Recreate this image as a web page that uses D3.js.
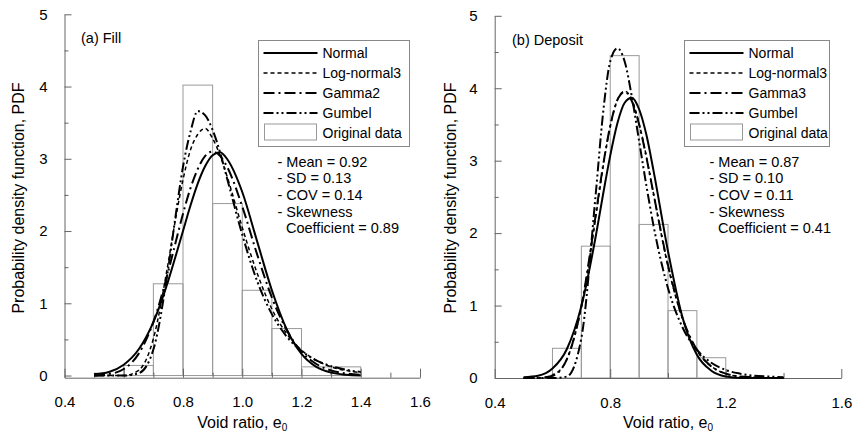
<!DOCTYPE html>
<html>
<head>
<meta charset="utf-8">
<script src="https://cdn.jsdelivr.net/npm/d3@7"></script>
<style>
  body { margin: 0; background: #fff; }
  svg { font-family: "Liberation Sans", Arial, sans-serif; }
</style>
</head>
<body>
<svg id="chart" width="853" height="432"></svg>
<script>
const xGrid = [0.5, 0.55, 0.6, 0.65, 0.7, 0.75, 0.775, 0.8, 0.825, 0.85, 0.875, 0.9, 0.925, 0.95, 1.0, 1.05, 1.1, 1.15, 1.2, 1.25, 1.3, 1.35, 1.4];

// (a) Fill
const fillBinEdges = [0.6, 0.7, 0.8, 0.9, 1.0, 1.1, 1.2, 1.3, 1.4];
const fillBinPdf = [0.14, 1.27, 4.02, 2.38, 1.18, 0.65, 0.12, 0.12];
const fillNormal = [0.02, 0.05, 0.15, 0.36, 0.74, 1.31, 1.65, 2.00, 2.35, 2.66, 2.90, 3.05, 3.09, 2.99, 2.54, 1.86, 1.18, 0.64, 0.30, 0.12, 0.04, 0.01, 0.00];
const fillLogNormal3 = [0, 0, 0.00, 0.07, 0.51, 1.56, 2.17, 2.71, 3.12, 3.34, 3.42, 3.28, 3.05, 2.74, 2.05, 1.42, 0.92, 0.58, 0.35, 0.21, 0.12, 0.07, 0.04];
const fillGamma2 = [0.00, 0.02, 0.09, 0.30, 0.74, 1.44, 1.84, 2.24, 2.59, 2.86, 3.04, 3.10, 3.04, 2.88, 2.34, 1.68, 1.08, 0.63, 0.33, 0.16, 0.07, 0.03, 0.01];
const fillGumbel = [0, 0, 0.00, 0.03, 0.36, 1.48, 2.21, 2.89, 3.37, 3.66, 3.60, 3.40, 3.09, 2.71, 1.95, 1.31, 0.85, 0.54, 0.34, 0.21, 0.13, 0.08, 0.05];
const fillStats = ["- Mean = 0.92", "- SD = 0.13", "- COV = 0.14", "- Skewness", "Coefficient = 0.89"];

// (b) Deposit
const depBinEdges = [0.6, 0.7, 0.8, 0.9, 1.0, 1.1, 1.2];
const depBinPdf = [0.41, 1.82, 4.45, 2.12, 0.93, 0.28];
const depNormal = [0.01, 0.03, 0.13, 0.40, 0.99, 1.96, 2.53, 3.07, 3.52, 3.80, 3.87, 3.71, 3.36, 2.86, 1.75, 0.84, 0.32, 0.10, 0.02, 0.00, 0, 0, 0];
const depLogNormal3 = [0, 0.00, 0.04, 0.26, 0.98, 2.23, 2.91, 3.47, 3.84, 3.96, 3.84, 3.51, 3.06, 2.54, 1.54, 0.82, 0.38, 0.16, 0.06, 0.02, 0.01, 0.00, 0.00];
const depGamma3 = [0, 0.00, 0.03, 0.26, 0.99, 2.26, 2.93, 3.48, 3.84, 3.95, 3.82, 3.50, 3.05, 2.54, 1.56, 0.83, 0.39, 0.16, 0.06, 0.02, 0.01, 0.00, 0.00];
const depGumbel = [0, 0, 0, 0.02, 0.55, 2.55, 3.65, 4.37, 4.55, 4.37, 3.88, 3.27, 2.66, 2.10, 1.24, 0.70, 0.39, 0.21, 0.11, 0.06, 0.03, 0.02, 0.01];
const depStats = ["- Mean = 0.87", "- SD = 0.10", "- COV = 0.11", "- Skewness", "Coefficient = 0.41"];

const yTicks = [0, 1, 2, 3, 4, 5];
const yMinorTicks = [0.5, 1.5, 2.5, 3.5, 4.5];

// line styles, one per distribution
const styles = {
	normal: { dash: null, width: 2 },
	lognormal: { dash: "4,3", width: 1.5 },
	gamma: { dash: "11,4,2,4", width: 2 },
	gumbel: { dash: "10,3,2,3,2,3", width: 2 }
};

var svg = d3.select("#chart");

function drawPanel(cfg) {
	var x = d3.scaleLinear().domain([0.4, 1.6]).range(cfg.xRange);
	var y = d3.scaleLinear().domain(cfg.yDomain).range(cfg.yRange);
	var g = svg.append("g");

	// histogram of the original data
	var bins = cfg.heights.map((h, i) => ({ x0: cfg.edges[i], x1: cfg.edges[i + 1], h: h }));
	g.selectAll(".bar")
		.data(bins)
		.enter()
		.append("rect")
		.attr("x", d => x(d.x0))
		.attr("width", d => x(d.x1) - x(d.x0))
		.attr("y", d => y(d.h))
		.attr("height", d => y(0) - y(d.h))
		.attr("fill", "none")
		.attr("stroke", "#999")
		.attr("stroke-width", 1);

	// axes
	g.append("g")
		.attr("transform", "translate(0," + y(cfg.yDomain[0]) + ")")
		.call(d3.axisBottom(x).tickValues(cfg.xLabels).tickSize(-9).tickSizeOuter(0).tickPadding(19).tickFormat(d3.format(".1f")));
	g.append("g")
		.attr("transform", "translate(0," + y(cfg.yDomain[0]) + ")")
		.call(d3.axisBottom(x).tickValues(cfg.xMinor).tickSize(-5).tickFormat(""))
		.call(a => a.select(".domain").remove());
	g.append("g")
		.attr("transform", "translate(" + cfg.xRange[0] + ",0)")
		.call(d3.axisLeft(y).tickValues(yTicks).tickSize(-7).tickSizeOuter(0).tickPadding(17).tickFormat(d3.format("d")));
	g.append("g")
		.attr("transform", "translate(" + cfg.xRange[0] + ",0)")
		.call(d3.axisLeft(y).tickValues(yMinorTicks).tickSize(-4).tickFormat(""))
		.call(a => a.select(".domain").remove());
	g.selectAll(".domain, .tick line").attr("stroke", "#666");
	g.selectAll(".tick text").attr("font-size", "15px").attr("fill", "#000").attr("font-family", "Liberation Sans, Arial, sans-serif");

	// fitted curves
	var line = d3.line()
		.x((d, i) => x(xGrid[i]))
		.y(d => y(d))
		.curve(d3.curveMonotoneX);
	cfg.curves.forEach(c => {
		g.append("path")
			.attr("d", line(c.values))
			.attr("fill", "none")
			.attr("stroke", "#000")
			.attr("stroke-width", styles[c.style].width)
			.attr("stroke-dasharray", styles[c.style].dash);
	});

	// legend
	var lg = g.append("g");
	lg.append("rect")
		.attr("x", cfg.legend[0]).attr("y", 40.5)
		.attr("width", cfg.legend[2]).attr("height", 106)
		.attr("fill", "#fff").attr("stroke", "#888").attr("stroke-width", 1);
	cfg.curves.forEach((c, i) => {
		var ly = 53 + i * 20;
		lg.append("line")
			.attr("x1", cfg.legend[0] + 5).attr("x2", cfg.legend[0] + 59)
			.attr("y1", ly).attr("y2", ly)
			.attr("stroke", "#000")
			.attr("stroke-width", styles[c.style].width)
			.attr("stroke-dasharray", styles[c.style].dash);
		lg.append("text")
			.attr("x", cfg.legend[0] + 64).attr("y", ly + 5)
			.attr("font-size", "14px")
			.text(c.name);
	});
	lg.append("rect")
		.attr("x", cfg.legend[0] + 6).attr("y", 124)
		.attr("width", 52).attr("height", 16)
		.attr("fill", "none").attr("stroke", "#999");
	lg.append("text")
		.attr("x", cfg.legend[0] + 64).attr("y", 138)
		.attr("font-size", "14px")
		.text("Original data");

	// statistics
	g.selectAll(".stat")
		.data(cfg.stats)
		.enter()
		.append("text")
		.attr("x", (d, i) => cfg.statsX + (i == 4 ? 8.5 : 0))
		.attr("y", (d, i) => 166.5 + i * 16.7)
		.attr("font-size", "14.5px")
		.text(d => d);

	// titles
	g.append("text")
		.attr("x", cfg.titleXY[0]).attr("y", cfg.titleXY[1])
		.attr("font-size", "14.5px")
		.text(cfg.title);
	g.append("text")
		.attr("transform", "translate(" + cfg.yLabelX + ",198) rotate(-90)")
		.attr("text-anchor", "middle")
		.attr("font-size", "16px")
		.text("Probability density function, PDF");
	var xl = g.append("text")
		.attr("x", (cfg.xRange[0] + cfg.xRange[1]) / 2)
		.attr("y", 427.5)
		.attr("text-anchor", "middle")
		.attr("font-size", "16px");
	xl.append("tspan").text("Void ratio, e");
	xl.append("tspan").attr("font-size", "10px").attr("dy", 3).text("0");
}

drawPanel({
	xRange: [64.5, 420],
	yDomain: [-0.03, 5],
	yRange: [377.7, 14.3],
	xLabels: [0.4, 0.6, 0.8, 1.0, 1.2, 1.4, 1.6],
	xMinor: [0.5, 0.7, 0.9, 1.1, 1.3, 1.5],
	edges: fillBinEdges,
	heights: fillBinPdf,
	curves: [
		{ name: "Normal", style: "normal", values: fillNormal },
		{ name: "Log-normal3", style: "lognormal", values: fillLogNormal3 },
		{ name: "Gamma2", style: "gamma", values: fillGamma2 },
		{ name: "Gumbel", style: "gumbel", values: fillGumbel }
	],
	legend: [258.5, 40.5, 151],
	stats: fillStats,
	statsX: 277.5,
	title: "(a) Fill",
	titleXY: [81, 43],
	yLabelX: 24
});

drawPanel({
	xRange: [494.7, 841.3],
	yDomain: [0, 5],
	yRange: [378, 15.8],
	xLabels: [0.4, 0.8, 1.2, 1.6],
	xMinor: [0.6, 1.0, 1.4],
	edges: depBinEdges,
	heights: depBinPdf,
	curves: [
		{ name: "Normal", style: "normal", values: depNormal },
		{ name: "Log-normal3", style: "lognormal", values: depLogNormal3 },
		{ name: "Gamma3", style: "gamma", values: depGamma3 },
		{ name: "Gumbel", style: "gumbel", values: depGumbel }
	],
	legend: [684.5, 40.5, 145],
	stats: depStats,
	statsX: 709.5,
	title: "(b) Deposit",
	titleXY: [512, 45],
	yLabelX: 456
});
</script>
</body>
</html>
